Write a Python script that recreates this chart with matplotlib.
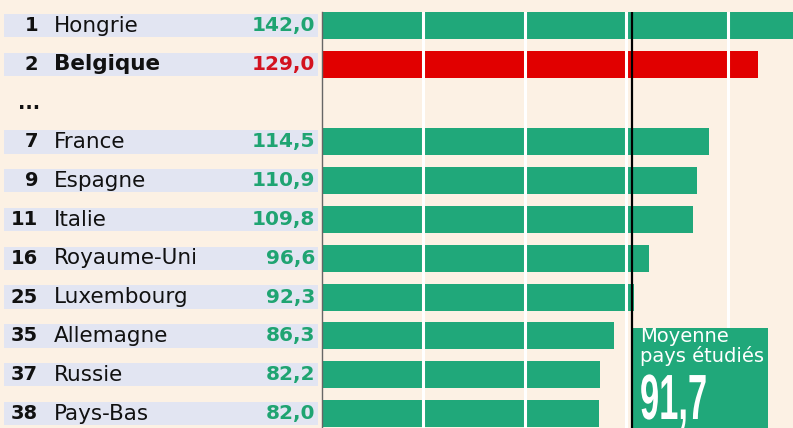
import matplotlib
matplotlib.use("Agg")
import matplotlib.pyplot as plt
from matplotlib import transforms
from matplotlib.patches import Rectangle
from matplotlib.patheffects import AbstractPathEffect
from matplotlib.transforms import Affine2D

# ---- data ----
ranks = ["1", "2", "", "7", "9", "11", "16", "25", "35", "37", "38"]
countries = ["Hongrie", "Belgique", "...", "France", "Espagne", "Italie",
             "Royaume-Uni", "Luxembourg", "Allemagne", "Russie", "Pays-Bas"]
values = [142.0, 129.0, None, 114.5, 110.9, 109.8, 96.6, 92.3, 86.3, 82.2, 82.0]
highlight = "Belgique"
mean_value = 91.7
mean_label = "Moyenne\npays étudiés"
mean_text = "91,7"
grid_ticks = [30, 60, 90, 120]

# ---- style ----
BG = "#fcf1e4"
GREEN = "#20a87a"
RED = "#e10000"
STRIPE = "#e2e5f2"
TXT = "#111111"
GREEN_TXT = "#1fa472"
RED_TXT = "#d3121f"


class HScale(AbstractPathEffect):
    """Horizontally condense the glyph outlines of a text (keeps it a Text artist)."""
    def __init__(self, sx):
        super().__init__()
        self.sx = sx

    def draw_path(self, renderer, gc, tpath, affine, rgbFace=None):
        renderer.draw_path(gc, tpath, Affine2D().scale(self.sx, 1) + affine, rgbFace)


W, H = 793, 428
fig = plt.figure(figsize=(W / 100, H / 100), dpi=100, facecolor=BG)

center0, step = 25.5, 38.8
y_top = (12 - center0) / step
y_bot = (H - center0) / step
px_per_unit = 3.38
x_max = (W - 322) / px_per_unit

ax = fig.add_axes([322 / W, 0, (W - 322) / W, (H - 12) / H])
ax.set_facecolor(BG)
ax.set_xlim(0, x_max)
ax.set_ylim(y_bot, y_top)
for s in ["top", "right", "bottom"]:
    ax.spines[s].set_visible(False)
ax.spines["left"].set_color("#666666")
ax.spines["left"].set_linewidth(1.0)
ax.set_xticks([])
ax.set_yticks([])

ys = list(range(len(countries)))
for y, c, v in zip(ys, countries, values):
    if v is None:
        continue
    col = RED if c == highlight else GREEN
    ax.barh(y, v, height=0.7, color=col, zorder=2)

for g in grid_ticks:
    ax.axvline(g, color="white", lw=2.2, zorder=3)

# mean box
box_right = (768 - 322) / px_per_unit
box_top = (328 - center0) / step
ax.add_patch(Rectangle((mean_value, box_top), box_right - mean_value, y_bot - box_top + 1,
                       facecolor=GREEN, edgecolor="none", zorder=4))
ax.axvline(mean_value, color="black", lw=1.6, zorder=5)

bx = (640 - 322) / px_per_unit
ax.text(bx, (362 - center0) / step, mean_label, color="white", fontsize=14,
        ha="left", va="baseline", linespacing=1.0, zorder=6)
ax.text(bx, (419 - center0) / step, mean_text, color="white", fontsize=46,
        fontweight="bold", family="Liberation Sans", ha="left", va="baseline",
        zorder=6, path_effects=[HScale(0.54)])

# left labels
tr = transforms.blended_transform_factory(fig.transFigure, ax.transData)
for y, r, c, v in zip(ys, ranks, countries, values):
    if v is None:
        ax.text(18 / W, y, c, transform=tr, ha="left", va="center", fontsize=14,
                fontweight="bold", color=TXT, clip_on=False)
        continue
    ax.add_patch(Rectangle((4 / W, y - 0.3), 314 / W, 0.6, transform=tr,
                           facecolor=STRIPE, edgecolor="none", clip_on=False, zorder=1))
    hl = c == highlight
    ax.text(38 / W, y, r, transform=tr, ha="right", va="center", fontsize=14,
            fontweight="bold", color=TXT, clip_on=False)
    ax.text(54 / W, y, c, transform=tr, ha="left", va="center", fontsize=15.5,
            fontweight="bold" if hl else "normal", color=TXT, clip_on=False)
    ax.text(315 / W, y, f"{v:.1f}".replace(".", ","), transform=tr, ha="right",
            va="center", fontsize=14.5, fontweight="bold",
            color=RED_TXT if hl else GREEN_TXT, clip_on=False)

fig.savefig("out.png", dpi=100, facecolor=BG)
